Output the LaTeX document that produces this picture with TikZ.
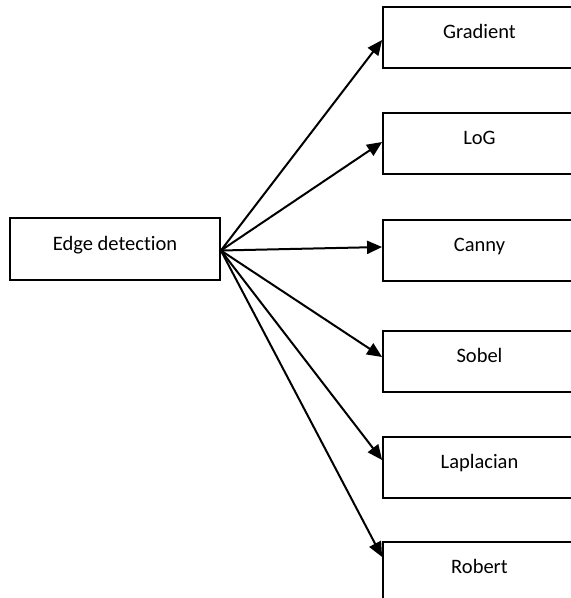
\documentclass[tikz,border=0pt]{standalone}
\usepackage{fontspec}
\setmainfont[Ligatures=NoCommon]{Carlito}
\usetikzlibrary{arrows.meta}

\begin{document}
\begin{tikzpicture}[x=1pt,y=-1pt,
    box/.style={draw,line width=1.8pt,minimum width=193pt,minimum height=61pt,inner sep=0pt,
        text height=14pt,text depth=12pt,font=\fontsize{20.5}{24}\selectfont},
    link/.style={line width=2pt,-{Triangle[length=15pt,width=13pt]}}]
        \useasboundingbox (0,0) rectangle (571,598);
        \clip (0,0) rectangle (571,598);
        \fill[white] (0,0) rectangle (571,598);
        \node[box,minimum width=210pt,minimum height=62pt] (edge) at (115,249) {Edge detection};
        \foreach \n/\lbl/\y/\d in {grad/Gradient/37.5/-2.5, log/LoG/143.5/1.5, canny/Canny/250.5/3.5,
            sobel/Sobel/361.5/4.5, lap/Laplacian/467.5/7.5, rob/Robert/572.5/15.5} {
            \node[box] (\n) at (479.5,\y) {\lbl};
            \draw[link] ([yshift=-1.5pt]edge.east) -- ([yshift=\d pt]\n.west);
        }
    \end{tikzpicture}
\end{document}
